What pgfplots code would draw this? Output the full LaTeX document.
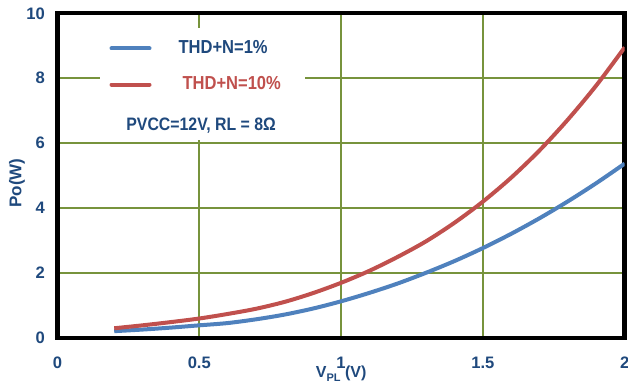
\documentclass[border=0pt]{standalone}
\usepackage{fontspec}
\setmainfont{Liberation Sans}
\newfontfamily\lgfont{Liberation Sans}[FakeStretch=0.88]
\usepackage{pgfplots}
\pgfplotsset{compat=1.18}
\definecolor{tblue}{HTML}{1F497D}
\definecolor{lblue}{HTML}{4F81BD}
\definecolor{lred}{HTML}{C0504D}
\definecolor{grd}{HTML}{77933C}
\begin{document}
\begin{tikzpicture}
\begin{axis}[
  scale only axis, width=283.6pt, height=162.35pt,
  xmin=0, xmax=2, ymin=0, ymax=10,
  xtick={0,0.5,1,1.5,2}, ytick={0,2,4,6,8,10},
  major tick length=0pt,
  grid=major,
  major grid style={grd, line width=1.2pt},
  axis line style={black, line width=2.2pt},
  /pgf/number format/assume math mode=true,
  tick label style={font=\fontsize{8.3}{9}\selectfont\bfseries, text=tblue},
  yticklabel style={xshift=-2.8pt},
  xticklabel style={yshift=-5.8pt},
  xlabel={V\raisebox{-0.45ex}{\fontsize{5.5}{6}\selectfont PL} (V)},
  xlabel style={at={(axis description cs:0.5,-0.1232)}, anchor=base, font=\fontsize{8}{9}\selectfont\bfseries, text=tblue},
  ylabel={Po(W)},
  ylabel style={at={(axis description cs:-0.0714,0.477)}, anchor=center, font=\fontsize{8.5}{10}\selectfont\bfseries, text=tblue},
  legend style={draw=none, fill=none, at={(axis cs:0.182,9.3)}, anchor=north west, inner sep=0pt, row sep=6pt, column sep=11.5pt,
    font=\lgfont\bfseries\fontsize{9.4}{10}\selectfont, text=tblue},
  legend cell align=left,
  legend image code/.code={\draw[line width=2pt,line cap=round] (0pt,0pt) -- (19pt,0pt);},
]
\coordinate (bl) at (rel axis cs:0,0);
\coordinate (tr) at (rel axis cs:1,1);
\fill[white] (axis cs:0.15,6.1) rectangle (axis cs:0.873,9.55);
\addplot[lblue, line width=2pt, smooth] coordinates {
 (0.2,0.21) (0.3,0.26) (0.4,0.32) (0.5,0.39) (0.6,0.46) (0.7,0.575) (0.8,0.72) (0.9,0.905) (1.0,1.13)
 (1.1,1.39) (1.2,1.68) (1.3,2.01) (1.4,2.37) (1.5,2.77) (1.6,3.21) (1.7,3.69) (1.8,4.21) (1.9,4.77) (2.0,5.37)};
\addlegendentry{THD+N=1\%}
\addplot[lred, line width=2pt, smooth] coordinates {
 (0.2,0.3) (0.3,0.39) (0.4,0.49) (0.5,0.6) (0.6,0.74) (0.7,0.9) (0.8,1.11) (0.9,1.38) (1.0,1.7)
 (1.1,2.07) (1.2,2.5) (1.3,2.98) (1.4,3.55) (1.5,4.2) (1.6,4.94) (1.7,5.78) (1.8,6.73) (1.9,7.78) (2.0,8.95)};
\addlegendentry{\hspace{2pt}\textcolor{lred}{THD+N=10\%}}
\node[anchor=base west, inner sep=0pt, font=\lgfont\bfseries\fontsize{9}{10}\selectfont, text=tblue] at (axis cs:0.2415,6.375) {PVCC=12V, RL = 8Ω};
\end{axis}
\pgfresetboundingbox
\useasboundingbox ([xshift=-28.75pt,yshift=-25.5pt]bl) rectangle ([xshift=1.65pt,yshift=6.65pt]tr);
\end{tikzpicture}
\end{document}
